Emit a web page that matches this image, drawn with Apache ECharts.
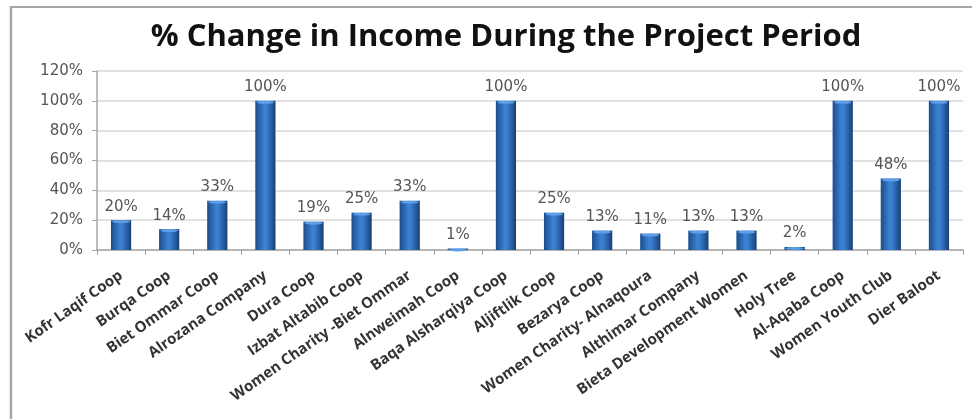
<!DOCTYPE html>
<html>
<head>
<meta charset="utf-8">
<script src="https://cdn.jsdelivr.net/npm/echarts@6/dist/echarts.min.js"></script>
<style>
html,body{margin:0;padding:0;background:#fff;}
#c{width:972px;height:419px;}
</style>
</head>
<body>
<div id="c"></div>
<script>
const titleText = '% Change in Income During the Project Period';
const categories = [
  'Kofr Laqif Coop', 'Burqa Coop', 'Biet Ommar Coop', 'Alrozana Company',
  'Dura Coop', 'Izbat Altabib Coop', 'Women Charity -Biet Ommar', 'Alnweimah Coop',
  'Baqa Alsharqiya Coop', 'Aljiftlik Coop', 'Bezarya Coop', 'Women Charity- Alnaqoura',
  'Althimar Company', 'Bieta Development Women', 'Holy Tree', 'Al-Aqaba Coop',
  'Women Youth Club', 'Dier Baloot'
];
const values = [20, 14, 33, 100, 19, 25, 33, 1, 100, 25, 13, 11, 13, 13, 2, 100, 48, 100];
const yTicks = { min: 0, max: 120, interval: 20 };

const chart = echarts.init(document.getElementById('c'), null, { renderer: 'canvas' });
const barGrad = new echarts.graphic.LinearGradient(0, 0, 1, 0, [
  { offset: 0, color: '#1b4c8a' },
  { offset: 0.45, color: '#3d82d4' },
  { offset: 0.6, color: '#3679c9' },
  { offset: 1, color: '#183f75' }
]);
chart.setOption({
  animation: false,
  backgroundColor: '#fff',
  graphic: [
    { type: 'line', shape: { x1: 10, y1: 7, x2: 972, y2: 7 }, style: { stroke: '#a6a6a6', lineWidth: 2 } },
    { type: 'line', shape: { x1: 11, y1: 6, x2: 11, y2: 419 }, style: { stroke: '#a6a6a6', lineWidth: 2.5 } }
  ],
  title: {
    text: titleText,
    left: 501, top: 17, textAlign: 'center',
    textStyle: { fontFamily: 'Open Sans', fontWeight: 'bold', fontSize: 31, color: '#111' }
  },
  grid: { left: 97, right: 9, top: 71, bottom: 169, containLabel: false },
  xAxis: {
    type: 'category',
    data: categories,
    axisLine: { lineStyle: { color: '#a6a6a6', width: 1.5 } },
    axisTick: { show: true, alignWithLabel: false, length: 5, lineStyle: { color: '#a6a6a6' } },
    axisLabel: {
      interval: 0, rotate: 35, margin: 24,
      fontFamily: 'Open Sans', fontWeight: 'bold', fontSize: 15, color: '#333'
    }
  },
  yAxis: {
    type: 'value',
    min: yTicks.min, max: yTicks.max, interval: yTicks.interval,
    axisLine: { show: true, lineStyle: { color: '#a6a6a6', width: 1.5 } },
    axisTick: { show: true, length: 5, inside: false, lineStyle: { color: '#a6a6a6' } },
    splitLine: { lineStyle: { color: '#d9d9d9', width: 1.5 } },
    axisLabel: {
      formatter: '{value}%', margin: 14,
      fontFamily: 'DejaVu Sans', fontSize: 15, color: '#555'
    }
  },
  series: [
    {
      type: 'bar',
      data: values,
      barWidth: '42%',
      itemStyle: { color: barGrad },
      label: {
        show: true, position: 'top', distance: 6,
        formatter: '{c}%',
        fontFamily: 'DejaVu Sans', fontSize: 15, color: '#555'
      },
      z: 2
    },
    {
      type: 'pictorialBar',
      data: values,
      symbol: 'circle',
      symbolSize: [18, 3],
      symbolPosition: 'end',
      symbolOffset: [0, 0],
      itemStyle: { color: '#5c9ee8' },
      z: 3,
      silent: true
    }
  ]
});
</script>
</body>
</html>
